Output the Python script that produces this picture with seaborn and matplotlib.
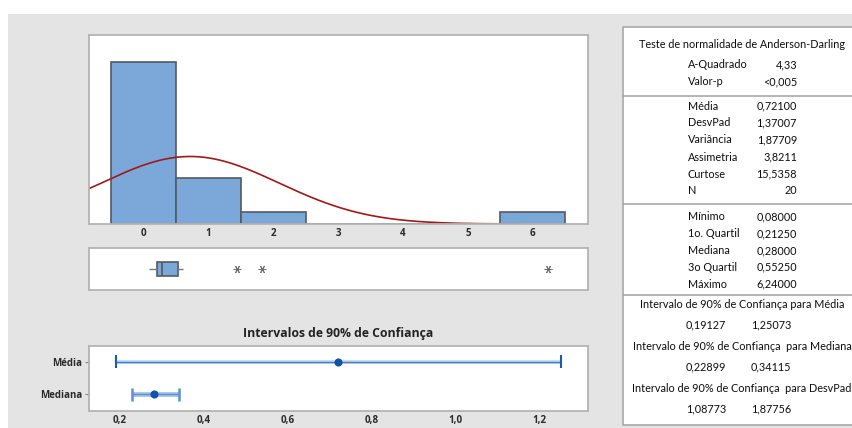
import numpy as np
import matplotlib
matplotlib.use("Agg")
import matplotlib.pyplot as plt
from matplotlib.patches import Rectangle
from matplotlib.lines import Line2D
import seaborn as sns

# ---- data -------------------------------------------------------------
values = [0.08, 0.10, 0.12, 0.16, 0.21, 0.22, 0.24, 0.26, 0.27, 0.28,
          0.28, 0.29, 0.31, 0.39, 0.53, 0.56, 0.61, 1.44, 1.83, 6.24]
hist_bins = [-0.5, 0.5, 1.5, 2.5, 3.5, 4.5, 5.5, 6.5]
hist_ticks = [0, 1, 2, 3, 4, 5, 6]

fit_mean = 0.72100
fit_sd = 1.37007
n_obs = 20

ci_labels = ["Média", "Mediana"]
ci_center = [0.72100, 0.28000]
ci_low = [0.19127, 0.22899]
ci_high = [1.25073, 0.34115]
ci_ticks = [0.2, 0.4, 0.6, 0.8, 1.0, 1.2]
ci_ticklabels = ["0,2", "0,4", "0,6", "0,8", "1,0", "1,2"]

ad_rows = [("A-Quadrado", "4,33"), ("Valor-p", "<0,005")]
moment_rows = [("Média", "0,72100"), ("DesvPad", "1,37007"),
               ("Variância", "1,87709"), ("Assimetria", "3,8211"),
               ("Curtose", "15,5358"), ("N", "20")]
quantile_rows = [("Mínimo", "0,08000"), ("1o. Quartil", "0,21250"),
                 ("Mediana", "0,28000"), ("3o Quartil", "0,55250"),
                 ("Máximo", "6,24000")]
interval_rows = [("Intervalo de 90% de Confiança para Média", "0,19127", "1,25073"),
                 ("Intervalo de 90% de Confiança  para Mediana", "0,22899", "0,34115"),
                 ("Intervalo de 90% de Confiança  para DesvPad", "1,08773", "1,87756")]

# ---- style ------------------------------------------------------------
sns.set_theme(style="white")
plt.rcParams["font.family"] = ["Lato", "DejaVu Sans"]

W, H = 853, 428
BAR = "#7ca7d9"
EDGE = "#555a60"
FRAME = "#b4b4b4"
CURVE = "#9e1a1a"
TICKTXT = "#2b2b2b"

fig = plt.figure(figsize=(W / 100, H / 100), dpi=100)
fig.patch.set_facecolor("white")


def fx(x):
    return x / W


def fy(y):
    return 1 - y / H


def axes_px(left, top, right, bottom):
    return fig.add_axes([fx(left), fy(bottom), (right - left) / W, (bottom - top) / H])


# grey panel behind everything
fig.patches.append(Rectangle((fx(8), 0), 1, fy(14), transform=fig.transFigure,
                             facecolor="#e4e4e4", edgecolor="none", zorder=-10))


def frame(ax):
    for s in ax.spines.values():
        s.set_color(FRAME)
        s.set_linewidth(1.3)
    ax.set_facecolor("white")


XLIM = (-0.837, 6.85)
tick_font = dict(family=["Open Sans", "DejaVu Sans"], weight="bold", size=7.0, color=TICKTXT)

# ---- histogram with fitted normal curve ---------------------------------
ax_h = axes_px(89, 35, 588, 224)
sns.histplot(x=values, bins=hist_bins, ax=ax_h, color=BAR, edgecolor=EDGE,
             linewidth=1.2, alpha=1.0)
xs = np.linspace(XLIM[0], 5.83, 400)
ys = n_obs * 1.0 * np.exp(-0.5 * ((xs - fit_mean) / fit_sd) ** 2) / (fit_sd * np.sqrt(2 * np.pi))
sns.lineplot(x=xs, y=ys, ax=ax_h, color=CURVE, linewidth=1.2)
ax_h.set_xlim(XLIM)
ax_h.set_ylim(0, 16.3)
ax_h.set_yticks([])
ax_h.set_xticks(hist_ticks)
ax_h.set_xticklabels([str(t) for t in hist_ticks], **tick_font)
ax_h.tick_params(axis="x", length=0, pad=3)
ax_h.set_xlabel("")
ax_h.set_ylabel("")
frame(ax_h)

# ---- boxplot ------------------------------------------------------------
ax_b = axes_px(89, 248, 588, 290)
sns.boxplot(x=values, ax=ax_b, orient="h", width=0.42, whis=1.5, color=BAR,
            linecolor=EDGE, linewidth=1.2, showcaps=False, saturation=1,
            flierprops=dict(marker=(6, 2, 30), markersize=5.5, markeredgecolor="#6e6e6e",
                            markeredgewidth=0.7),
            whiskerprops=dict(color="#777777", linewidth=1.0))
ax_b.set_xlim(XLIM)
ax_b.set_ylim(0.6, -0.6)
ax_b.set_xticks([])
ax_b.set_yticks([])
ax_b.set_xlabel("")
frame(ax_b)

# ---- confidence intervals ---------------------------------------------
ax_c = axes_px(89, 346, 588, 411)
ypos = [0, 1]
# mean interval: thin line with dark caps
ax_c.hlines(ypos[0], ci_low[0], ci_high[0], color="#c9dbf0", linewidth=3.0, zorder=1)
ax_c.hlines(ypos[0], ci_low[0], ci_high[0], color="#3f7cc6", linewidth=1.0, zorder=2)
ax_c.vlines([ci_low[0], ci_high[0]], ypos[0] - 0.2, ypos[0] + 0.2, color="#1f5aa8",
            linewidth=1.5, zorder=2)
# median interval: wider pale band
ax_c.hlines(ypos[1], ci_low[1], ci_high[1], color="#a9c4e8", linewidth=3.5, zorder=1)
ax_c.hlines(ypos[1], ci_low[1], ci_high[1], color="#5b90d0", linewidth=1.0, zorder=2)
ax_c.vlines([ci_low[1], ci_high[1]], ypos[1] - 0.2, ypos[1] + 0.2, color="#5b90d0",
            linewidth=1.8, zorder=2)
sns.scatterplot(x=ci_center, y=ypos, ax=ax_c, color="#1052a3", s=34, marker="o",
                edgecolor="#1052a3", linewidth=0, zorder=3)
ax_c.set_xlim(0.126, 1.316)
ax_c.set_ylim(1.51, -0.49)
ax_c.set_yticks(ypos)
ax_c.set_yticklabels(ci_labels, **tick_font)
ax_c.set_xticks(ci_ticks)
ax_c.set_xticklabels(ci_ticklabels, **tick_font)
ax_c.tick_params(axis="y", length=3, width=0.8, color="#888888", pad=2, left=True)
ax_c.tick_params(axis="x", length=0, pad=3)
ax_c.set_xlabel("")
ax_c.set_ylabel("")
frame(ax_c)
fig.text(fx(338.5), fy(334), "Intervalos de 90% de Confiança", ha="center", va="center",
         family=["Open Sans", "DejaVu Sans"], weight="bold", size=8.8, color="#222222")

# ---- summary table ------------------------------------------------------
fig.patches.append(Rectangle((fx(623), fy(425)), 1, fy(27) - fy(425),
                             transform=fig.transFigure, facecolor="white",
                             edgecolor="#a8a8a8", linewidth=1.2, zorder=-5))
for ysep in (96, 204, 295):
    fig.lines.append(Line2D([fx(623), 1.0], [fy(ysep), fy(ysep)], transform=fig.transFigure,
                            color="#a8a8a8", linewidth=1.2))

tfont = dict(size=7.8, color="#0d0d0d")
LBL_X, VAL_X, MID_X = 688, 797, 742

fig.text(fx(MID_X), fy(45), "Teste de normalidade de Anderson-Darling", ha="center",
         va="center", **tfont)


def rows(items, y0, step):
    for i, (lab, val) in enumerate(items):
        y = y0 + i * step
        fig.text(fx(LBL_X), fy(y), lab, ha="left", va="center", **tfont)
        fig.text(fx(VAL_X), fy(y), val, ha="right", va="center", **tfont)


rows(ad_rows, 65, 16.5)
rows(moment_rows, 106, 17)
rows(quantile_rows, 217, 16.8)

for i, (title, lo, hi) in enumerate(interval_rows):
    y = 304 + i * 42
    fig.text(fx(MID_X), fy(y), title, ha="center", va="center", **tfont)
    fig.text(fx(706), fy(y + 21), lo, ha="center", va="center", **tfont)
    fig.text(fx(771), fy(y + 21), hi, ha="center", va="center", **tfont)

fig.savefig("out.png", dpi=100, facecolor="white")
